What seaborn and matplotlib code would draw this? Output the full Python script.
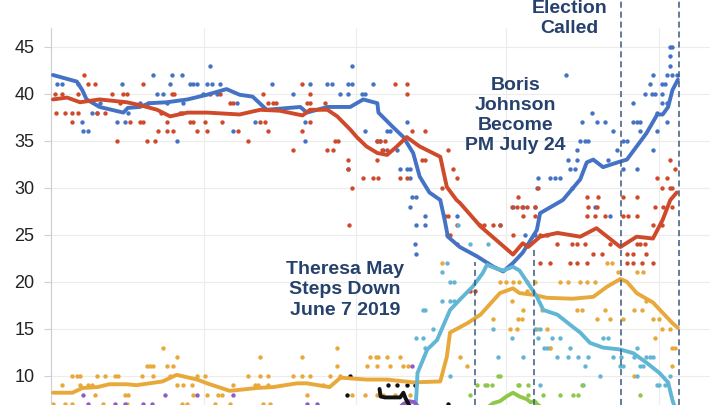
import matplotlib
matplotlib.use("Agg")
import matplotlib.pyplot as plt
import pandas as pd
import seaborn as sns

sns.set_theme(style="white")
plt.rcParams['font.family'] = ['Liberation Sans', 'DejaVu Sans']

# ---------------- rolling averages (day index, %) ----------------
con_line_day = [0, 22, 27, 31, 43, 65, 69, 80, 89, 105, 124, 142, 160, 172, 184, 197, 228, 234, 253, 274, 286, 299, 300, 313,
                323, 332, 338, 347, 357, 361, 364, 375, 391, 406, 415, 424, 433, 446, 449, 470, 486, 492, 498, 507, 523, 529,
                538, 547, 557, 562, 567, 571, 576]
con_line_val = [42.0, 41.3, 40.4, 39.4, 38.6, 38.0, 38.5, 38.6, 39.0, 39.1, 39.4, 39.9, 40.5, 39.9, 39.7, 38.3, 38.6, 38.0,
                38.6, 38.6, 39.4, 39.0, 38.0, 36.5, 35.4, 33.7, 31.2, 29.5, 28.7, 26.6, 24.8, 23.7, 22.7, 21.6, 21.1, 22.0,
                23.1, 25.5, 27.3, 28.7, 30.9, 32.7, 33.0, 32.2, 32.8, 33.0, 34.4, 35.8, 37.8, 37.8, 38.6, 40.4, 41.5]

lab_line_day = [0, 13, 25, 43, 68, 80, 96, 108, 124, 142, 172, 191, 209, 230, 237, 253, 262, 274, 280, 289, 299, 308, 317,
                326, 338, 357, 363, 372, 375, 394, 412, 424, 433, 438, 446, 449, 465, 486, 501, 523, 538, 553, 562, 569, 575]
lab_line_val = [39.4, 39.6, 39.1, 39.4, 39.1, 38.8, 38.3, 37.6, 38.0, 38.0, 37.8, 38.3, 38.2, 37.7, 38.3, 38.3, 37.6, 36.2,
                35.4, 34.4, 33.7, 33.5, 34.4, 35.4, 34.4, 33.3, 30.1, 28.7, 28.4, 25.9, 24.1, 22.9, 24.1, 23.7, 24.5, 24.8,
                25.2, 24.8, 25.7, 23.7, 24.8, 24.6, 26.6, 28.7, 29.5]

ld_line_day = [0, 18, 27, 41, 52, 68, 77, 89, 101, 114, 133, 142, 163, 188, 203, 225, 234, 255, 265, 289, 308, 332, 357,
               363, 366, 382, 394, 412, 424, 430, 444, 455, 479, 498, 511, 523, 529, 538, 553, 562, 571, 576]
ld_line_val = [8.2, 8.2, 8.7, 8.8, 9.1, 9.1, 9.0, 9.2, 9.4, 10.1, 9.6, 9.2, 8.4, 8.7, 8.8, 9.2, 9.2, 8.8, 9.8, 9.6, 9.6,
               9.3, 9.4, 12.0, 14.6, 15.6, 16.5, 18.8, 19.3, 18.8, 18.6, 18.3, 18.2, 18.4, 19.5, 20.3, 20.0, 18.8, 17.8,
               16.7, 15.6, 15.1]

bxp_line_day = [333, 335, 336, 345, 354, 357, 366, 375, 387, 396, 400, 409, 415, 424, 430, 437, 446, 452, 465, 477, 486,
                495, 507, 523, 535, 547, 559, 567, 571, 575]
bxp_line_val = [5.0, 8.0, 10.3, 12.8, 13.8, 14.6, 17.0, 18.1, 19.5, 20.9, 21.8, 21.4, 21.2, 21.6, 21.2, 20.0, 18.4, 17.0,
                16.5, 15.4, 14.6, 13.5, 13.0, 12.8, 12.4, 11.4, 10.3, 9.3, 7.4, 6.0]

grn_line_day = [390, 400, 406, 412, 418, 424, 430, 437, 440, 444, 447, 455]
grn_line_val = [6.0, 6.6, 7.1, 7.3, 7.8, 8.2, 7.8, 7.5, 7.2, 7.3, 6.9, 6.4]

ukip_line_day = [312, 318, 323, 328, 333, 336, 340]
ukip_line_val = [6.0, 6.5, 7.0, 7.3, 7.2, 6.8, 6.0]

chuk_line_day = [301, 302, 306, 320, 323, 325, 330]
chuk_line_val = [8.6, 7.8, 7.7, 7.7, 8.2, 7.6, 6.5]

# ---------------- individual polls (day index, %) ----------------
con_poll_day = [4, 8, 23, 27, 28, 32, 36, 41, 43, 59, 64, 66, 69, 80, 88, 92, 96, 101, 105, 110, 108, 119, 114, 117, 120,
                126, 129, 133, 138, 142, 145, 147, 151, 154, 166, 170, 202, 237, 253, 257, 272, 276, 276, 295, 265, 272,
                285, 288, 221, 186, 232, 232, 288, 299, 301, 304, 308, 311, 317, 320, 326, 329, 329, 272, 326, 331, 335,
                329, 343, 335, 343, 334, 335, 372, 424, 433, 444, 412, 435, 444, 513, 500, 473, 497, 488, 501, 509, 516,
                486, 490, 493, 483, 520, 475, 483, 512, 477, 481, 447, 458, 463, 467, 446, 478, 525, 529, 535, 538, 541,
                535, 546, 552, 555, 561, 550, 561, 564, 553, 566, 571, 575, 569, 569, 569, 571, 561, 566, 557, 566, 553,
                541, 557, 538, 525]
con_poll_val = [41, 41, 41, 37, 36, 36, 38, 38, 39, 37, 41, 37, 38, 39, 39, 42, 40, 40, 39, 42, 41, 42, 35, 38, 39,
                41, 41, 41, 40, 41, 43, 41, 40, 41, 36, 39, 41, 41, 41, 41, 41, 41, 43, 41, 40, 40,
                40, 40, 40, 37, 37, 35, 36, 35, 35, 34, 36, 36, 34, 32, 32, 32, 31, 32, 37, 29, 29,
                28, 27, 26, 26, 24, 23, 27, 28, 28, 28, 26, 25, 25, 27, 28, 42, 38, 37, 37, 37, 36,
                35, 35, 35, 34, 34, 33, 33, 33, 32, 32, 31, 31, 31, 31, 30, 30, 35, 35, 37, 37, 37,
                39, 40, 40, 40, 40, 41, 41, 41, 42, 42, 42, 42, 43, 44, 45, 45, 39, 39, 38, 37, 34,
                36, 36, 32, 32]

lab_poll_day = [2, 8, 3, 11, 18, 23, 18, 23, 29, 32, 39, 41, 48, 54, 59, 62, 65, 68, 71, 80, 83, 83, 87, 94, 97, 100,
                105, 105, 110, 112, 111, 119, 126, 129, 133, 140, 142, 145, 154, 156, 163, 166, 171, 180, 194, 198, 203,
                206, 191, 195, 198, 221, 230, 230, 234, 237, 237, 237, 251, 253, 258, 260, 263, 272, 272, 276, 286, 295,
                300, 299, 301, 306, 303, 308, 299, 315, 326, 326, 331, 343, 320, 326, 340, 343, 364, 369, 372, 359, 273,
                361, 364, 372, 394, 406, 412, 423, 428, 432, 437, 384, 389, 424, 372, 363, 366, 444, 493, 501, 555, 562,
                571, 397, 433, 444, 492, 500, 509, 525, 530, 538, 553, 561, 449, 455, 465, 478, 483, 490, 498, 506, 513,
                529, 535, 547, 538, 541, 546, 449, 458, 477, 483, 492, 529, 535, 543, 553, 569, 573, 557, 566, 561, 569,
                571, 447, 429, 525, 538, 492, 502]
lab_poll_val = [40, 40, 38, 38, 38, 38, 37, 40, 42, 41, 41, 38, 38, 40, 35, 39, 40, 40, 37, 37, 37, 41, 35, 35, 36, 38,
                37, 36, 40, 40, 36, 38, 37, 37, 36, 37, 36, 40, 40, 37, 39, 39, 36, 35, 40, 39, 39,
                39, 37, 37, 36, 34, 41, 36, 39, 39, 40, 37, 39, 34, 34, 35, 35, 33, 32, 30, 31, 31,
                31, 35, 35, 35, 34, 34, 33, 41, 41, 40, 36, 36, 31, 31, 33, 33, 34, 32, 31, 30, 26,
                27, 27, 26, 26, 26, 26, 28, 28, 28, 28, 19, 19, 25, 24, 25, 25, 28, 28, 28, 28, 28,
                28, 26, 27, 27, 27, 27, 27, 27, 27, 27, 26, 26, 25, 25, 24, 24, 24, 24, 23, 23, 24,
                23, 23, 23, 24, 24, 24, 22, 22, 22, 22, 22, 22, 22, 22, 22, 33, 32, 31, 31, 30, 30,
                30, 30, 29, 29, 29, 29, 29]

ld_poll_day = [8, 18, 22, 25, 25, 32, 36, 39, 41, 48, 57, 60, 66, 69, 82, 87, 89, 92, 92, 101, 105, 111, 108, 114, 114,
               120, 128, 129, 133, 140, 142, 152, 156, 166, 180, 186, 189, 191, 191, 198, 198, 221, 230, 237, 230, 234,
               249, 0, 11, 18, 46, 68, 119, 124, 149, 163, 194, 200, 262, 255, 265, 289, 299, 323, 327, 262, 276, 288,
               299, 304, 315, 329, 300, 308, 320, 292, 298, 311, 375, 382, 359, 412, 418, 424, 437, 406, 429, 433, 428,
               437, 430, 444, 458, 467, 475, 486, 492, 500, 511, 515, 521, 538, 544, 432, 423, 451, 483, 488, 509, 536,
               543, 421, 446, 455, 501, 513, 525, 547, 553, 559, 561, 569, 555, 571, 573, 458, 536, 571]
ld_poll_val = [9, 10, 10, 10, 9, 9, 9, 8, 10, 10, 10, 10, 8, 8, 10, 11, 11, 11, 10, 13, 11, 11, 10, 12, 9,
               9, 9, 8, 10, 10, 8, 8, 8, 9, 10, 9, 9, 12, 10, 10, 9, 10, 10, 10, 12, 8,
               9, 7, 7, 7, 7, 7, 7, 7, 7, 7, 7, 7, 13, 10, 10, 11, 11, 11, 11, 11, 8, 8,
               8, 8, 8, 8, 12, 12, 12, 12, 12, 11, 12, 11, 22, 20, 20, 20, 20, 16, 16, 17, 15,
               19, 20, 20, 13, 20, 20, 20, 20, 20, 22, 22, 21, 21, 21, 16, 18, 17, 17, 17, 17, 17,
               17, 15, 15, 15, 16, 16, 16, 18, 16, 16, 15, 15, 14, 13, 13, 13, 10, 11]

bxp_poll_day = [406, 444, 449, 447, 460, 467, 507, 512, 455, 477, 423, 410, 433, 465, 475, 484, 490, 523, 536, 547, 550,
                553, 538, 538, 557, 564, 569, 453, 493, 504, 516, 524, 525, 541, 544, 559, 449, 489, 373, 384, 401, 363,
                359, 366, 370, 359, 366, 370, 341, 343, 350, 335, 341, 400, 343, 366]
bxp_poll_val = [15, 15, 15, 14, 14, 14, 14, 14, 13, 13, 14, 12, 12, 12, 12, 12, 11, 11, 12, 12, 12,
                12, 13, 10, 9, 9, 10, 13, 12, 10, 12, 12, 11, 11, 11, 9, 9, 9, 26, 24, 24, 22,
                21, 20, 20, 18, 18, 18, 17, 17, 15, 14, 14, 22, 13, 10]

grn_poll_day = [391, 398, 405, 410, 430, 438, 384, 412, 400, 429, 467, 479, 438, 488, 452, 484, 541]
grn_poll_val = [9, 9, 9, 10, 9, 9, 8, 10, 9, 9, 8, 8, 8, 9, 8, 8, 8]

ukip_poll_day = [28, 32, 57, 66, 83, 91, 103, 133, 166, 234, 243, 331]
ukip_poll_val = [8, 7, 7, 7, 7, 7, 8, 8, 8, 7, 7, 11]

chuk_poll_day = [274, 271, 309, 317, 326, 334, 364]
chuk_poll_val = [10, 8, 9, 9, 9, 9, 7]

# ---------------- events ----------------
event_days = [389, 443, 524, 577]
event_tops = [22.1, 23.7, 50.0, 50.0]
grid_days = [139, 279, 418, 559]
y_ticks = [10, 15, 20, 25, 30, 35, 40, 45]

parties = [
    ("Con", con_line_day, con_line_val, con_poll_day, con_poll_val, "#4472C4"),
    ("Lab", lab_line_day, lab_line_val, lab_poll_day, lab_poll_val, "#CF4A2B"),
    ("LD", ld_line_day, ld_line_val, ld_poll_day, ld_poll_val, "#E8A93A"),
    ("BXP", bxp_line_day, bxp_line_val, bxp_poll_day, bxp_poll_val, "#62B6D5"),
    ("Grn", grn_line_day, grn_line_val, grn_poll_day, grn_poll_val, "#8FC74A"),
    ("UKIP", ukip_line_day, ukip_line_val, ukip_poll_day, ukip_poll_val, "#8D5CC6"),
    ("ChUK", chuk_line_day, chuk_line_val, chuk_poll_day, chuk_poll_val, "#111111"),
]

fig = plt.figure(figsize=(7.2, 4.05), dpi=100)
ax = fig.add_axes([51 / 720, 0, 659 / 720, 377 / 405])
ymax = 47.0
ymin = ymax - 377 / 9.4

for name, ld, lv, pd_, pv, col in parties:
    pdf = pd.DataFrame({"day": pd_, "val": pv})
    sns.scatterplot(data=pdf, x="day", y="val", ax=ax, color=col, s=10, linewidth=0, zorder=2)
for name, ld, lv, pd_, pv, col in parties:
    ldf = pd.DataFrame({"day": ld, "val": lv})
    sns.lineplot(data=ldf, x="day", y="val", ax=ax, color=col, lw=2.8, zorder=3, sort=True)

for d, t in zip(event_days, event_tops):
    ax.plot([d, d], [ymin, t], color="#3B5782", lw=1.1, ls=(0, (4, 2.5)), clip_on=False, zorder=4)

ax.set_xlim(-1.8, 605.6)
ax.set_ylim(ymin, ymax)
ax.set_yticks(y_ticks)
ax.set_xticks(grid_days)
ax.set_xlabel("")
ax.set_ylabel("")
ax.grid(True, color="#ececec", lw=0.8)
ax.set_axisbelow(True)
ax.tick_params(axis="x", length=0, labelbottom=False)
ax.tick_params(axis="y", length=5, width=0.8, color="#d0d0d0", pad=7, labelsize=13, labelcolor="#222222", left=True)
for s in ["top", "right", "bottom"]:
    ax.spines[s].set_visible(False)
ax.spines["left"].set_color("#d0d0d0")
ax.spines["left"].set_linewidth(0.9)

txt_kw = dict(fontsize=14, fontweight="bold", color="#27416D", ha="center", va="center",
              linespacing=1.25, clip_on=False, zorder=5)
ax.text(269, 19.15, "Theresa May\nSteps Down\nJune 7 2019", **txt_kw)
ax.text(426, 37.7, "Boris\nJohnson\nBecome\nPM July 24", **txt_kw)
ax.text(476, 48.0, "Election\nCalled", **txt_kw)

fig.savefig("out.png", dpi=100)
